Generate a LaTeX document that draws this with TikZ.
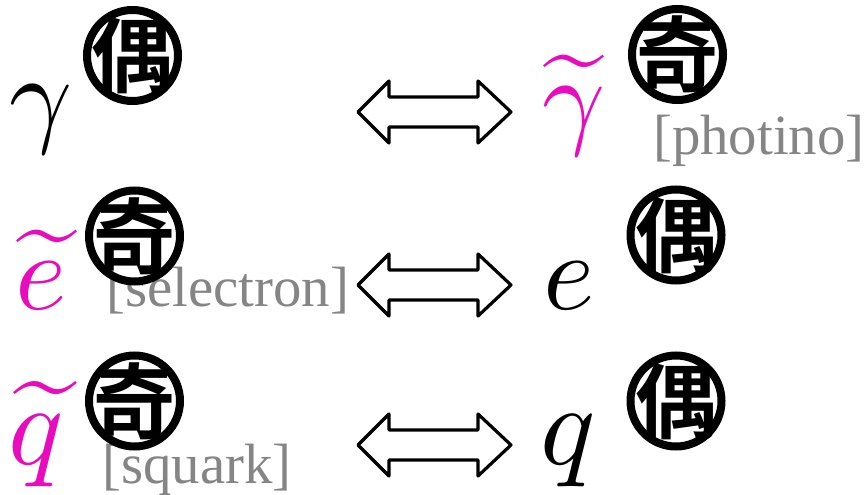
\documentclass[tikz,border=0pt]{standalone}
\usepackage{fontspec}
\usepackage{amsmath}
\setmainfont{Liberation Serif}
\newfontfamily\cjk{Noto Sans CJK JP}[BoldFont={Noto Sans CJK JP Bold}]
\definecolor{pinkc}{HTML}{E80CBC}
\definecolor{greyc}{HTML}{858585}
\newcommand{\glyph}[1]{\makebox[0pt]{\raisebox{-31pt}[0pt][0pt]{\cjk\bfseries\fontsize{82}{82}\selectfont #1}}}
\tikzset{
  badge/.style={circle,draw=black,line width=8pt,fill=white,minimum size=91pt,inner sep=0pt},
  sym/.style={inner sep=0pt,anchor=base,scale=11,transform shape},
  symq/.style={inner sep=0pt,anchor=base,scale=11.5,transform shape},
  tag/.style={inner sep=0pt,anchor=base west,text=greyc,font=\fontsize{56.8}{57}\selectfont},
  dblarrow/.style={draw=black,line width=3.2pt,line join=round,fill=white},
}
\begin{document}
\begin{tikzpicture}[x=1pt,y=-1pt]
\useasboundingbox (0,0) rectangle (865,495);
% labels under badges
\node[tag] (tphotino) at (653,154) {[photino]};
\node[tag] (tselectron) at (106,306) {[selectron]};
\node[tag] (tsquark) at (102,483) {[squark]};
% symbols
\node[sym] (gamma) at (41,132) {$\gamma$};
\node[sym,text=pinkc] (gammat) at (574,134) {$\widetilde{\gamma}$};
\node[sym,text=pinkc] (et) at (41,309) {$\widetilde{e}$};
\node[sym] (e) at (569,309) {$e$};
\node[symq,text=pinkc] (qt) at (36,464) {$\widetilde{q}$};
\node[symq] (q) at (568,464) {$q$};
% badges
\node[badge] (b1) at (132.5,55.5) {\glyph{偶}};
\node[badge] (b2) at (677.5,54.5) {\glyph{奇}};
\node[badge] (b3) at (134.5,236) {\glyph{奇}};
\node[badge] (b4) at (676,235) {\glyph{偶}};
\node[badge] (b5) at (134.5,401) {\glyph{奇}};
\node[badge] (b6) at (676,401) {\glyph{偶}};
% arrows
\foreach \yy in {112,285,445}{
  \draw[dblarrow,shift={(0,\yy)}] (358,0) -- (389,-31) -- (389,-15) -- (478,-15) -- (478,-31) -- (511,0)
    -- (478,31) -- (478,15) -- (389,15) -- (389,31) -- cycle;
}
\end{tikzpicture}
\end{document}
